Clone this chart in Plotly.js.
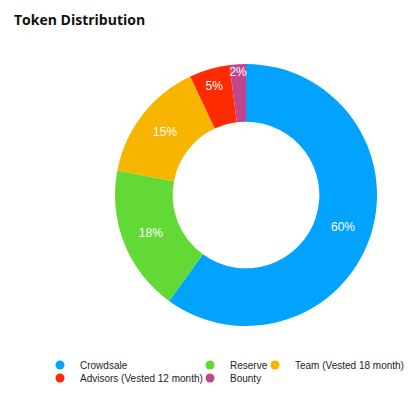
<!DOCTYPE html>
<html>
<head>
<meta charset="utf-8">
<script src="https://cdn.plot.ly/plotly-3.0.1.min.js"></script>
<style>html,body{margin:0;padding:0;background:#fff;}#chart{width:418px;height:396px;}</style>
</head>
<body>
<div id="chart"></div>
<script>
const categories = ["Crowdsale", "Reserve", "Team (Vested 18 month)", "Advisors (Vested 12 month)", "Bounty"];
const values = [60, 18, 15, 5, 2];
const colors = ["#02a3fe", "#63d936", "#f8b500", "#ff2a00", "#c1478d"];

// legend placement: [legend id, x px of marker, y px of row]
const legendSlots = [
  ["legend", 60, 365],
  ["legend2", 210, 365],
  ["legend3", 275, 365],
  ["legend4", 60, 378],
  ["legend5", 210, 378]
];

const W = 418, H = 396;
const cx = 246, cy = 195, R = 131;

const pie = {
  type: "pie",
  labels: categories,
  values: values,
  marker: { colors: colors, line: { width: 0 } },
  hole: 0.56,
  sort: false,
  direction: "clockwise",
  rotation: 0,
  textinfo: "percent",
  textposition: "inside",
  insidetextorientation: "horizontal",
  textfont: { family: "Liberation Sans, Arial, sans-serif", size: 12, color: "#ffffff" },
  showlegend: false,
  hoverinfo: "label+percent",
  domain: { x: [(cx - R) / W, (cx + R) / W], y: [(H - cy - R) / H, (H - cy + R) / H] }
};

const legendTraces = categories.map((c, i) => ({
  type: "scatter",
  mode: "markers",
  x: [null], y: [null],
  name: c,
  legend: legendSlots[i][0],
  marker: { color: colors[i], size: 9, symbol: "circle" },
  showlegend: true,
  hoverinfo: "skip"
}));

const layout = {
  width: W, height: H,
  margin: { l: 0, r: 0, t: 0, b: 0 },
  paper_bgcolor: "#ffffff",
  plot_bgcolor: "rgba(0,0,0,0)",
  xaxis: { visible: false, domain: [0, 0.01] },
  yaxis: { visible: false, domain: [0, 0.01] },
  title: {
    text: "<b>Token Distribution</b>",
    font: { family: "Open Sans, sans-serif", size: 14, color: "#111111" },
    x: 14 / W, xref: "paper", xanchor: "left",
    y: 1 - 20 / H, yref: "container", yanchor: "middle"
  },
  uniformtext: { minsize: 12, mode: "show" }
};

legendSlots.forEach(([id, mx, my]) => {
  layout[id] = {
    x: (mx - 20) / W, xanchor: "left",
    y: 1 - my / H, yanchor: "middle",
    bgcolor: "rgba(0,0,0,0)",
    borderwidth: 0,
    font: { family: "Liberation Sans, Arial, sans-serif", size: 10, color: "#222222" }
  };
});

Plotly.newPlot("chart", [pie].concat(legendTraces), layout, { displayModeBar: false, staticPlot: true });
</script>
</body>
</html>
